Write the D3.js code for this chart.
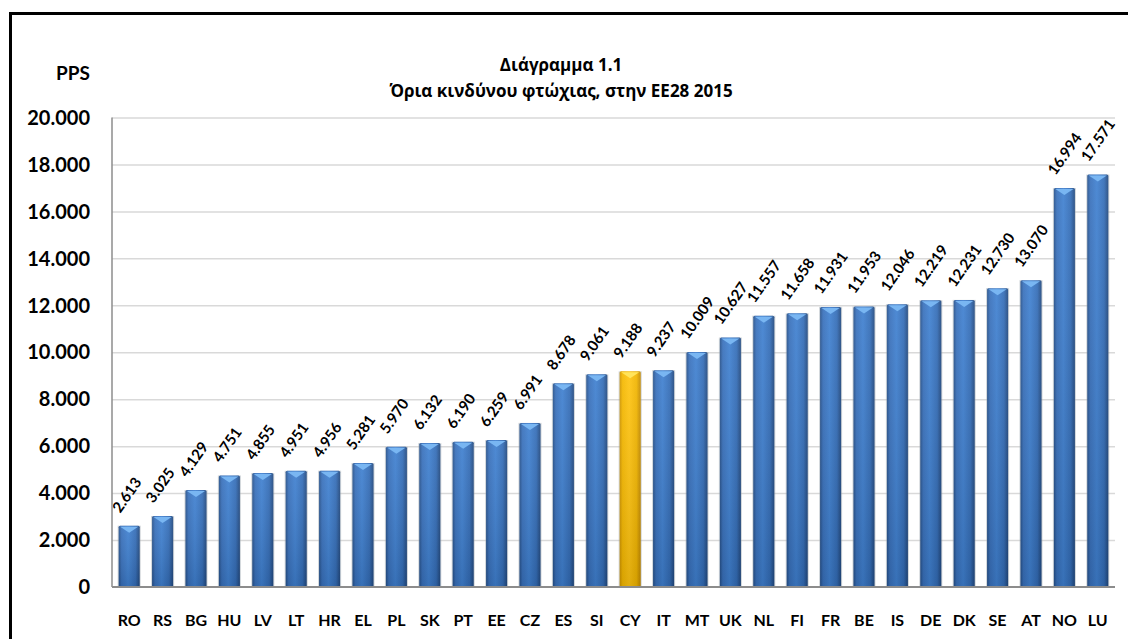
<!DOCTYPE html>
<html lang="el">
<head>
    <meta charset="utf-8">
    <title>Διάγραμμα 1.1</title>
    <script src="https://d3js.org/d3.v7.min.js"></script>
    <style type="text/css">
        body { margin: 0; background: #fff; }
        text { font-family: Lato, "Open Sans", sans-serif; font-weight: bold; fill: #000; }
        .title { font-family: "Open Sans", "Noto Sans", sans-serif; font-weight: bold; }
        .grid line { stroke: #d9d9d9; stroke-width: 1.5px; }
        .grid path { display: none; }
    </style>
</head>
<body>
<script type="text/javascript">
    const w = 1128;
    const h = 639;

    // data
    const countries = ["RO","RS","BG","HU","LV","LT","HR","EL","PL","SK","PT","EE","CZ","ES","SI",
                       "CY","IT","MT","UK","NL","FI","FR","BE","IS","DE","DK","SE","AT","NO","LU"];
    const values = [2613, 3025, 4129, 4751, 4855, 4951, 4956, 5281, 5970, 6132, 6190, 6259, 6991, 8678, 9061,
                    9188, 9237, 10009, 10627, 11557, 11658, 11931, 11953, 12046, 12219, 12231, 12730, 13070, 16994, 17571];
    const highlight = ["CY"];
    const yTicks = [0, 2000, 4000, 6000, 8000, 10000, 12000, 14000, 16000, 18000, 20000];

    const data = countries.map((c, i) => ({ c: c, v: values[i] }));

    const plotLeft = 112, plotRight = 1115, plotTop = 117.5, plotBottom = 587;

    const fmt = v => d3.format(",")(v).replace(/,/g, ".");

    const svg = d3.select("body").append("svg")
        .attr("width", w)
        .attr("height", h);

    // gradients
    const defs = svg.append("defs");
    function hGrad(id, stops) {
        const g = defs.append("linearGradient").attr("id", id)
            .attr("x1", "0%").attr("x2", "100%").attr("y1", "0%").attr("y2", "0%");
        stops.forEach(s => g.append("stop").attr("offset", s[0]).attr("stop-color", s[1]));
    }
    hGrad("blueBar", [["0%", "#25508a"], ["14%", "#3870bb"], ["45%", "#3f80d0"], ["80%", "#336cb6"], ["100%", "#21487e"]]);
    hGrad("yellowBar", [["0%", "#d09500"], ["14%", "#f5b800"], ["45%", "#ffc411"], ["80%", "#f0b400"], ["100%", "#c28900"]]);
    const shade = defs.append("linearGradient").attr("id", "shade")
        .attr("x1", "0%").attr("x2", "0%").attr("y1", "0%").attr("y2", "100%");
    shade.append("stop").attr("offset", "0%").attr("stop-color", "#fff").attr("stop-opacity", 0.08);
    shade.append("stop").attr("offset", "100%").attr("stop-color", "#000").attr("stop-opacity", 0.12);

    // frame
    svg.append("rect")
        .attr("x", 10.5).attr("y", 13.5)
        .attr("width", w + 20).attr("height", h + 20)
        .attr("fill", "none")
        .attr("stroke", "#000")
        .attr("stroke-width", 3);

    // scales
    const xScale = d3.scaleBand()
        .domain(countries)
        .range([plotLeft, plotRight])
        .paddingInner(0.37)
        .paddingOuter(0.2);

    const yScale = d3.scaleLinear()
        .domain([0, 20000])
        .range([plotBottom, plotTop]);

    // grid
    svg.append("g")
        .attr("class", "grid")
        .attr("transform", "translate(" + plotLeft + ",0)")
        .call(d3.axisLeft(yScale).tickValues(yTicks.slice(1)).tickSize(-(plotRight - plotLeft)).tickFormat(""));

    // y labels
    svg.append("g")
        .selectAll("text")
        .data(yTicks)
        .enter()
        .append("text")
        .attr("x", 90)
        .attr("y", d => yScale(d))
        .attr("dy", "0.36em")
        .attr("text-anchor", "end")
        .attr("font-size", "20px")
        .text(d => fmt(d));

    // bars
    const bw = xScale.bandwidth();
    const bars = svg.append("g").selectAll("g")
        .data(data)
        .enter()
        .append("g");

    bars.append("rect")
        .attr("x", d => xScale(d.c) - 1)
        .attr("y", d => yScale(d.v))
        .attr("width", bw + 2)
        .attr("height", d => plotBottom - yScale(d.v))
        .attr("fill", "#9aa3ad")
        .attr("opacity", 0.45);

    bars.append("rect")
        .attr("x", d => xScale(d.c))
        .attr("y", d => yScale(d.v))
        .attr("width", bw)
        .attr("height", d => plotBottom - yScale(d.v))
        .attr("rx", 1.5)
        .attr("fill", d => highlight.includes(d.c) ? "url(#yellowBar)" : "url(#blueBar)");

    bars.append("rect")
        .attr("x", d => xScale(d.c))
        .attr("y", d => yScale(d.v))
        .attr("width", bw)
        .attr("height", d => plotBottom - yScale(d.v))
        .attr("fill", "url(#shade)");

    // bevel at top of bar
    bars.append("path")
        .attr("d", d => {
            const x0 = xScale(d.c) + 1.5, x1 = xScale(d.c) + bw - 1.5, y0 = yScale(d.v) + 1;
            const xm = xScale(d.c) + bw / 2;
            return "M" + x0 + "," + y0 + "L" + x1 + "," + y0 + "L" + xm + "," + (y0 + 6) + "Z";
        })
        .attr("fill", d => highlight.includes(d.c) ? "#ffe45c" : "#79b6f2");

    // axes lines
    svg.append("line")
        .attr("x1", plotLeft).attr("x2", plotLeft)
        .attr("y1", plotTop).attr("y2", plotBottom)
        .attr("stroke", "#8c8c8c").attr("stroke-width", 1.5);
    svg.append("line")
        .attr("x1", plotLeft).attr("x2", plotRight)
        .attr("y1", plotBottom).attr("y2", plotBottom)
        .attr("stroke", "#8c8c8c").attr("stroke-width", 2);

    // value labels
    bars.append("text")
        .attr("transform", d => "translate(" + (xScale(d.c) + bw / 2 - 9) + "," + (yScale(d.v) - 12) + ") rotate(-55)")
        .attr("font-size", "15px")
        .text(d => fmt(d.v));

    // category labels
    svg.append("g")
        .selectAll("text")
        .data(countries)
        .enter()
        .append("text")
        .attr("x", d => xScale(d) + bw / 2)
        .attr("y", 626)
        .attr("text-anchor", "middle")
        .attr("font-size", "16px")
        .text(d => d);

    // titles
    svg.append("text")
        .attr("x", 90).attr("y", 80)
        .attr("text-anchor", "end")
        .attr("font-size", "19px")
        .text("PPS");

    svg.append("text")
        .attr("class", "title")
        .attr("x", 561).attr("y", 71)
        .attr("text-anchor", "middle")
        .attr("font-size", "17px")
        .text("Διάγραμμα 1.1");

    svg.append("text")
        .attr("class", "title")
        .attr("x", 561).attr("y", 97)
        .attr("text-anchor", "middle")
        .attr("font-size", "17px")
        .text("Όρια κινδύνου φτώχιας, στην ΕΕ28 2015");
</script>
</body>
</html>
